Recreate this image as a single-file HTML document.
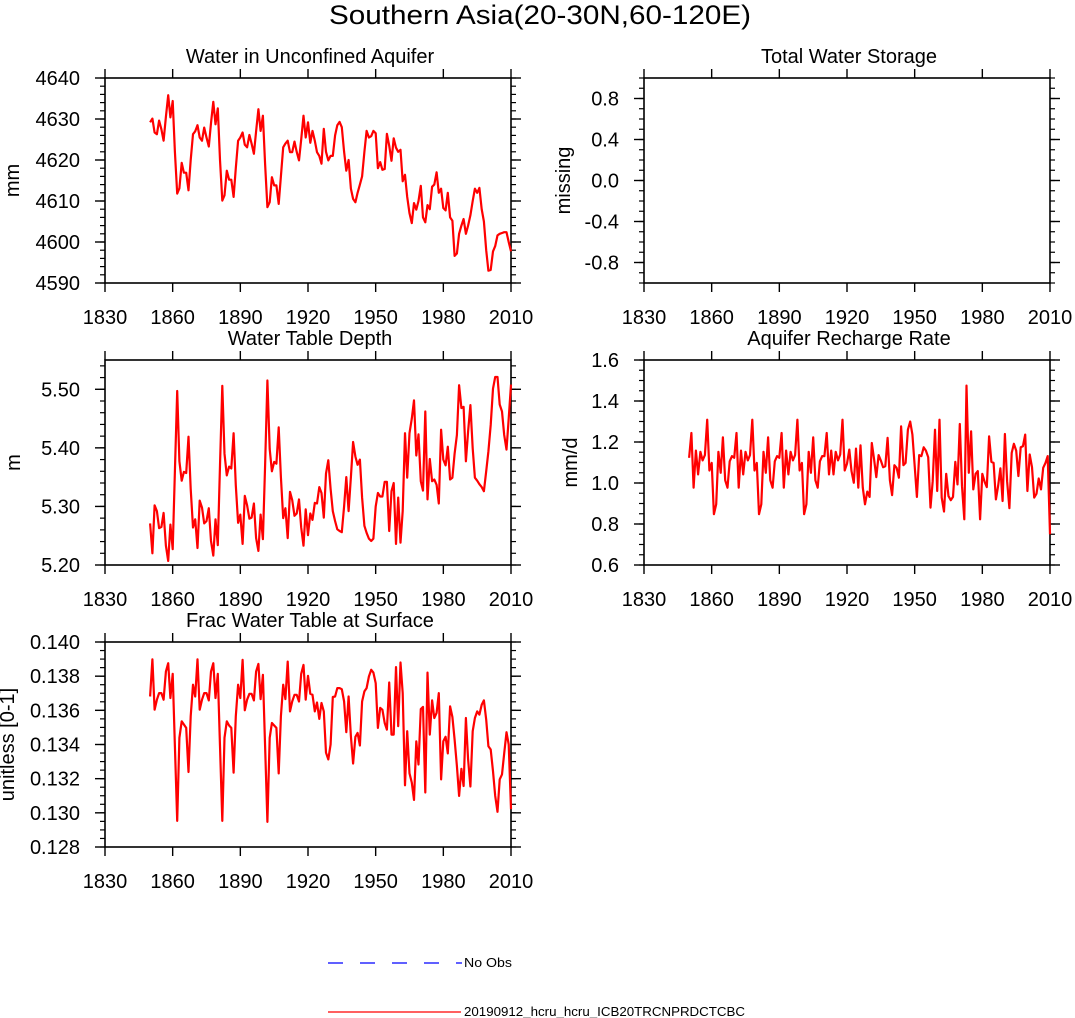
<!DOCTYPE html>
<html><head><meta charset="utf-8"><style>
html,body{margin:0;padding:0;background:#fff;}
svg{display:block;font-family:"Liberation Sans",Arial,sans-serif;}
</style></head><body>
<svg id="chart" width="1075" height="1018" viewBox="0 0 1075 1018" xmlns="http://www.w3.org/2000/svg">
<text x="540" y="24" font-size="27" text-anchor="middle" textLength="422" lengthAdjust="spacingAndGlyphs">Southern Asia(20-30N,60-120E)</text>
<g>
<line x1="328" y1="963" x2="462" y2="963" stroke="#0000ff" stroke-width="1.3" stroke-dasharray="15,17"/>
<text x="464" y="967" font-size="12.5" textLength="48" lengthAdjust="spacingAndGlyphs">No Obs</text>
<line x1="328" y1="1012" x2="461" y2="1012" stroke="#ff0000" stroke-width="1.3"/>
<text x="464" y="1016" font-size="12.5" textLength="281" lengthAdjust="spacingAndGlyphs">20190912_hcru_hcru_ICB20TRCNPRDCTCBC</text>
</g>
</svg>
<script>
const startYear = 1850;
const xTicks = [1830,1860,1890,1920,1950,1980,2010];
const aquiferVals = [4629.2,4630.1,4626.7,4626.3,4629.6,4627.5,4624.7,4630.5,4635.8,4630.4,
4634.4,4622,4611.8,4613.1,4619.3,4616.9,4616.9,4612.6,4620,4626.3,
4627,4628.5,4625.5,4624.7,4627.9,4625.5,4623.3,4629,4634.2,4628.7,
4632.6,4620,4610.1,4611.4,4617.4,4615.2,4615.2,4611,4618,4624.7,
4625.5,4626.7,4623.7,4623.1,4626.1,4624,4621.5,4627,4632.4,4627.1,
4630.8,4619,4608.5,4609.7,4615.8,4613.8,4613.8,4609.3,4616,4623.1,
4624,4624.7,4621.9,4621.9,4624.5,4622,4619.9,4625,4630.8,4625.5,
4629.2,4624.2,4627.1,4624.7,4621.9,4621,4619.1,4627.6,4622,4619.9,
4621,4621,4626,4628.5,4629.3,4628,4622,4617.4,4620,4613,
4610.5,4609.7,4612,4614,4616,4622,4627.1,4625.5,4625.8,4627.1,
4626.5,4618,4619.5,4617.6,4617.8,4626.4,4623.5,4619.8,4625.3,4623,
4622,4622.5,4614.8,4616.4,4611,4607,4604.6,4609.5,4607.9,4610,
4613.7,4606,4604.8,4609,4608,4613.5,4614,4617,4612,4613,
4608.3,4607.7,4612,4606,4605.2,4596.6,4597.2,4602,4604,4605.6,
4602,4604,4606.5,4610,4613,4612,4613.2,4608,4605,4598,
4593,4593.2,4597.7,4599,4601.6,4602,4602.2,4602.4,4602.4,4600,4597.7];
const aquiferTicks = [4590,4600,4610,4620,4630,4640];
const storageVals = [];
const storageTicks = [-0.8,-0.4,0.0,0.4,0.8];
const storageTickLabels = ["-0.8","-0.4","0.0","0.4","0.8"];
const depthVals = [5.271,5.220,5.302,5.292,5.263,5.265,5.289,5.233,5.207,5.269,
5.227,5.36,5.497,5.377,5.344,5.359,5.357,5.419,5.33,5.264,
5.278,5.229,5.31,5.298,5.271,5.275,5.297,5.241,5.216,5.278,
5.234,5.37,5.506,5.39,5.353,5.368,5.365,5.425,5.336,5.272,
5.286,5.236,5.318,5.302,5.279,5.281,5.305,5.246,5.224,5.286,
5.244,5.37,5.515,5.398,5.36,5.376,5.373,5.435,5.35,5.28,
5.297,5.246,5.325,5.311,5.284,5.288,5.312,5.264,5.233,5.295,
5.251,5.288,5.277,5.306,5.305,5.333,5.323,5.281,5.356,5.379,
5.33,5.292,5.275,5.261,5.258,5.256,5.30,5.350,5.292,5.35,
5.410,5.385,5.371,5.380,5.315,5.267,5.255,5.245,5.241,5.245,
5.30,5.323,5.317,5.317,5.342,5.342,5.258,5.326,5.340,5.236,
5.315,5.238,5.292,5.425,5.349,5.425,5.45,5.481,5.387,5.423,
5.343,5.327,5.462,5.312,5.381,5.343,5.346,5.337,5.305,5.431,
5.380,5.370,5.402,5.346,5.349,5.39,5.422,5.507,5.468,5.470,
5.377,5.428,5.473,5.399,5.349,5.344,5.338,5.333,5.326,5.36,
5.394,5.439,5.501,5.521,5.521,5.474,5.462,5.422,5.397,5.45,5.508];
const depthTicks = [5.2,5.3,5.4,5.5];
const depthTickLabels = ["5.20","5.30","5.40","5.50"];
const rechargeVals = [1.123,1.244,0.977,1.158,1.042,1.152,1.110,1.136,1.309,1.061,
1.098,0.848,0.896,1.152,1.050,1.223,1.013,0.977,1.106,1.131,
1.123,1.244,0.977,1.158,1.042,1.152,1.110,1.136,1.309,1.061,
1.098,0.848,0.896,1.152,1.050,1.223,1.013,0.977,1.106,1.131,
1.123,1.244,0.977,1.158,1.042,1.152,1.110,1.136,1.309,1.061,
1.098,0.848,0.896,1.152,1.050,1.223,1.013,0.977,1.106,1.131,
1.131,1.244,1.042,1.158,1.042,1.152,1.110,1.139,1.309,1.061,
1.094,1.163,1.058,1.001,1.168,0.977,1.184,0.977,0.896,0.958,
0.932,1.195,1.115,1.029,1.136,1.110,1.077,1.082,1.220,1.013,
0.941,1.087,1.074,1.026,1.276,1.087,1.098,1.260,1.300,1.236,
1.082,0.932,1.136,1.131,1.174,1.158,1.126,0.880,1.009,1.260,
0.961,1.309,0.929,0.861,1.045,0.936,0.916,0.932,1.103,0.993,
1.288,0.985,0.823,1.475,1.050,1.252,0.969,1.045,1.058,0.823,
1.045,1.006,0.980,1.228,1.103,1.098,0.920,0.985,1.071,0.912,
1.239,1.009,0.877,1.147,1.191,1.158,1.034,1.174,1.179,1.236,
0.961,1.139,1.077,0.929,0.948,1.022,0.969,1.074,1.098,1.131,0.750];
const rechargeTicks = [0.6,0.8,1.0,1.2,1.4,1.6];
const rechargeTickLabels = ["0.6","0.8","1.0","1.2","1.4","1.6"];
const fracVals = [0.13681,0.13899,0.13604,0.13662,0.13701,0.13701,0.13662,0.13827,0.13876,0.13672,
0.13814,0.13390,0.12953,0.13439,0.13536,0.13517,0.13497,0.13239,0.13565,0.13750,
0.13681,0.13899,0.13604,0.13662,0.13701,0.13701,0.13658,0.13827,0.13876,0.13672,
0.13814,0.13390,0.12953,0.13439,0.13536,0.13511,0.13497,0.13235,0.13565,0.13750,
0.13672,0.13895,0.13600,0.13662,0.13697,0.13697,0.13658,0.13827,0.13872,0.13666,
0.13808,0.13390,0.12947,0.13439,0.13526,0.13511,0.13497,0.13231,0.13565,0.13750,
0.13666,0.13885,0.13594,0.13652,0.13691,0.13691,0.13652,0.13814,0.13866,0.13662,
0.13802,0.13697,0.13691,0.13594,0.13646,0.13550,0.13643,0.13594,0.13352,0.13313,
0.13400,0.13678,0.13681,0.13730,0.13730,0.13724,0.13652,0.13472,0.13681,0.13448,
0.13289,0.13445,0.13468,0.13394,0.13652,0.13711,0.13730,0.13798,0.13837,0.13821,
0.13759,0.13497,0.13614,0.13604,0.13526,0.13487,0.13763,0.13458,0.13458,0.13853,
0.13507,0.13880,0.13701,0.13161,0.13478,0.13231,0.13177,0.13076,0.13419,0.13283,
0.13608,0.13620,0.13119,0.13821,0.13458,0.13658,0.13555,0.13585,0.13701,0.13196,
0.13419,0.13445,0.13348,0.13623,0.13561,0.13429,0.13274,0.13099,0.13258,0.13157,
0.13555,0.13313,0.13154,0.13478,0.13555,0.13594,0.13575,0.13633,0.13658,0.13546,
0.13390,0.13371,0.13244,0.13099,0.13006,0.13196,0.13225,0.13348,0.13472,0.13400,0.13021];
const fracTicks = [0.128,0.130,0.132,0.134,0.136,0.138,0.140];
const fracTickLabels = ["0.128","0.130","0.132","0.134","0.136","0.138","0.140"];

const NS = "http://www.w3.org/2000/svg";
const svg = document.getElementById("chart");
function mk(tag, attrs, parent){
  const e = document.createElementNS(NS, tag);
  for (const k in attrs) e.setAttribute(k, attrs[k]);
  (parent||svg).appendChild(e);
  return e;
}
function drawPanel(p){
  const g = mk("g", {});
  
  
  const L=p.left, R=p.left+406, T=p.top, B=p.top+205;
  const xs = y => L + (y-1830)/180*(R-L);
  const ys = v => B - (v-p.ymin)/(p.ymax-p.ymin)*(B-T);
  const frame = mk("rect", {x:L,y:T,width:R-L,height:B-T,fill:"none",stroke:"#000","stroke-width":1.6}, g);
  
  
  xTicks.forEach(t=>{
    const x = xs(t);
    mk("line",{x1:x,y1:B,x2:x,y2:B+9,stroke:"#000","stroke-width":1.4},g);
    mk("line",{x1:x,y1:T,x2:x,y2:T-9,stroke:"#000","stroke-width":1.4},g);
    const tl = mk("text",{x:x,y:B+41,"font-size":20,"text-anchor":"middle"},g);
    
    
    tl.textContent = t;
  });
  for (let v=p.ymin; v<=p.ymax+1e-9; v+=p.minor){
    const y = ys(v);
    mk("line",{x1:L,y1:y,x2:L-5,y2:y,stroke:"#000","stroke-width":1.2},g);
    mk("line",{x1:R,y1:y,x2:R+5,y2:y,stroke:"#000","stroke-width":1.2},g);
  }
  p.ticks.forEach((t,i)=>{
    const y = ys(t);
    mk("line",{x1:L,y1:y,x2:L-10,y2:y,stroke:"#000","stroke-width":1.4},g);
    mk("line",{x1:R,y1:y,x2:R+10,y2:y,stroke:"#000","stroke-width":1.4},g);
    const tl = mk("text",{x:L-25,y:y+7,"font-size":20,"text-anchor":"end"},g);
    
    
    tl.textContent = p.labels ? p.labels[i] : t;
  });
  const title = mk("text",{x:(L+R)/2+2,y:T-15,"font-size":20,"text-anchor":"middle"},g);
  
  
  title.textContent = p.title;
  const yl = mk("text",{x:0,y:0,"font-size":20,"text-anchor":"middle",transform:`translate(${p.ylx},${(T+B)/2}) rotate(-90)`},g);
  
  
  yl.textContent = p.ylabel;
  if (p.vals.length){
    const pts = p.vals.map((v,i)=>xs(startYear+i).toFixed(1)+","+ys(v).toFixed(1)).join(" ");
    const line = mk("polyline",{points:pts,fill:"none",stroke:"#ff0000","stroke-width":2.2,"stroke-linejoin":"round"},g);
    
    
  }
}
drawPanel({name:"panel-unconfined-aquifer",left:105,top:78,ymin:4590,ymax:4640,minor:2,ticks:aquiferTicks,title:"Water in Unconfined Aquifer",ylabel:"mm",ylx:19,vals:aquiferVals});
drawPanel({name:"panel-total-water-storage",left:644,top:78,ymin:-1,ymax:1,minor:0.1,ticks:storageTicks,labels:storageTickLabels,title:"Total Water Storage",ylabel:"missing",ylx:570,vals:storageVals});
drawPanel({name:"panel-water-table-depth",left:105,top:360,ymin:5.2,ymax:5.55,minor:0.02,ticks:depthTicks,labels:depthTickLabels,title:"Water Table Depth",ylabel:"m",ylx:20,vals:depthVals});
drawPanel({name:"panel-aquifer-recharge",left:644,top:360,ymin:0.6,ymax:1.6,minor:0.05,ticks:rechargeTicks,labels:rechargeTickLabels,title:"Aquifer Recharge Rate",ylabel:"mm/d",ylx:577,vals:rechargeVals});
drawPanel({name:"panel-frac-water-table",left:105,top:642,ymin:0.128,ymax:0.140,minor:0.0005,ticks:fracTicks,labels:fracTickLabels,title:"Frac Water Table at Surface",ylabel:"unitless [0-1]",ylx:14,vals:fracVals});
</script>
</body></html>
